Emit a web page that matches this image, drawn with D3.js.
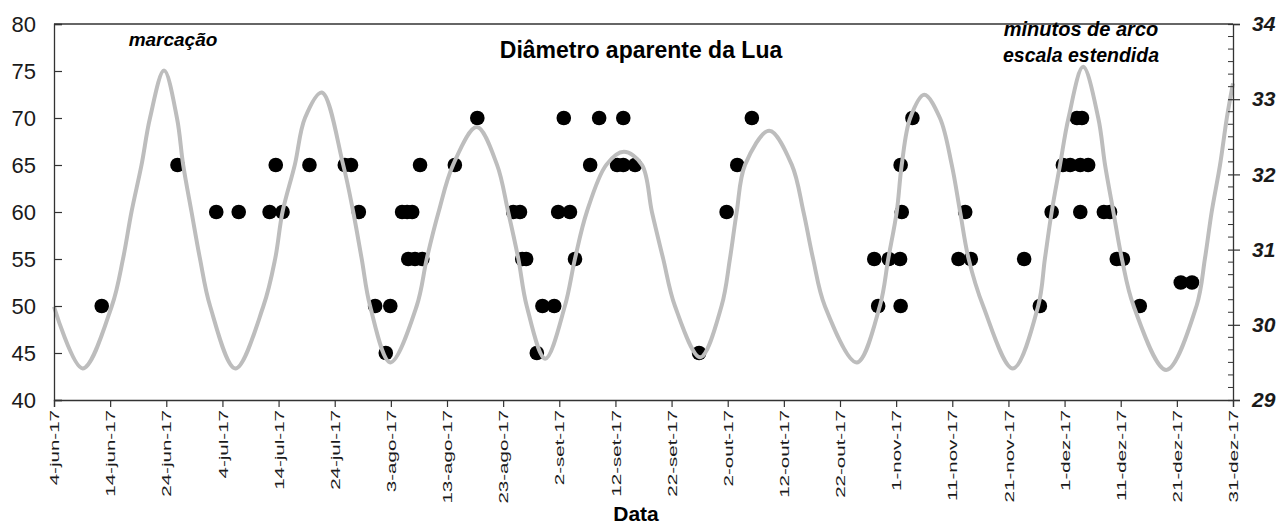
<!DOCTYPE html>
<html>
<head>
<meta charset="utf-8">
<script src="https://cdn.jsdelivr.net/npm/d3@7"></script>
<style>
  body { margin: 0; background: #fff; }
  svg { display: block; font-family: "Liberation Sans", Arial, sans-serif; }
</style>
</head>
<body>
<div id="chart"></div>
<script>
// Marcações observadas: dia do ano (2017) e valor na escala da esquerda
const marcacaoDia = [
  163.5, 177.0, 183.9, 187.9, 193.4, 195.7, 194.5, 200.5, 206.8, 207.9,
  209.3, 212.2, 214.9, 214.1, 217.0, 217.9, 218.8, 218.1, 219.3, 220.6,
  220.2, 226.4, 230.4, 236.8, 238.0, 238.4, 239.1, 242.0, 244.1, 241.0,
  244.8, 246.9, 245.8, 247.8, 250.5, 252.1, 256.4, 255.3, 256.4, 258.5,
  269.9, 274.8, 276.7, 279.3, 301.1, 301.8, 303.7, 305.7, 305.8, 306.0,
  305.8, 307.9, 316.1, 317.3, 318.3, 327.8, 330.6, 332.7, 334.7, 336.0,
  337.8, 339.2, 337.2, 338.1, 337.8, 342.0, 343.1, 344.3, 345.4, 348.4,
  355.7, 357.7
];
const marcacaoValor = [
  50, 65, 60, 60, 60, 60, 65, 65, 65, 65,
  60, 50, 50, 45, 60, 60, 60, 55, 55, 55,
  65, 65, 70, 60, 60, 55, 55, 50, 50, 45,
  60, 60, 70, 55, 65, 70, 70, 65, 65, 65,
  45, 60, 65, 70, 55, 50, 55, 55, 65, 60,
  50, 70, 55, 60, 55, 55, 50, 60, 65, 65,
  65, 65, 70, 70, 60, 60, 60, 55, 55, 50,
  52.5, 52.5
];

// Diâmetro aparente da Lua (minutos de arco)
const diametroDia = [
  155.0, 160.1, 165.3, 167.3, 168.8, 170.6, 172.1, 174.6, 176.9, 178.0,
  179.5, 181.0, 182.8, 187.3, 192.3, 194.4, 195.7, 197.9, 199.7, 202.7,
  206.5, 208.3, 209.8, 211.3, 214.9, 219.6, 221.4, 223.5, 226.1, 230.3,
  233.9, 235.9, 237.7, 239.2, 242.5, 246.0, 247.8, 249.9, 253.4, 256.5,
  259.7, 261.5, 263.5, 265.6, 270.1, 273.9, 275.4, 276.6, 278.1, 282.4,
  286.4, 288.5, 290.2, 292.3, 298.0, 302.1, 303.6, 305.1, 306.0, 307.5,
  310.0, 312.8, 314.9, 316.4, 317.9, 320.5, 325.8, 330.3, 331.5, 332.7,
  334.2, 335.7, 338.3, 341.0, 342.2, 343.7, 345.2, 347.3, 353.1, 358.5,
  360.0, 361.2, 362.7, 363.9, 365.0
];
const diametroArcmin = [
  30.24, 29.42, 30.25, 30.88, 31.50, 32.13, 32.75, 33.38, 32.75, 32.13,
  31.50, 30.88, 30.25, 29.42, 30.25, 30.88, 31.50, 32.13, 32.75, 33.09,
  32.13, 31.50, 30.88, 30.25, 29.50, 30.25, 30.88, 31.50, 32.13, 32.63,
  32.13, 31.50, 30.88, 30.25, 29.55, 30.25, 30.88, 31.50, 32.13, 32.30,
  32.13, 31.50, 30.88, 30.25, 29.57, 30.25, 30.88, 31.50, 32.13, 32.58,
  32.13, 31.50, 30.88, 30.25, 29.50, 30.25, 30.88, 31.50, 32.13, 32.75,
  33.06, 32.75, 32.13, 31.50, 30.88, 30.25, 29.42, 30.25, 30.88, 31.50,
  32.13, 32.75, 33.43, 32.75, 32.13, 31.50, 30.88, 30.25, 29.40, 30.25,
  30.88, 31.50, 32.13, 32.75, 33.21
];

const xTicks = [
  "2017-06-04", "2017-06-14", "2017-06-24", "2017-07-04", "2017-07-14", "2017-07-24",
  "2017-08-03", "2017-08-13", "2017-08-23", "2017-09-02", "2017-09-12", "2017-09-22",
  "2017-10-02", "2017-10-12", "2017-10-22", "2017-11-01", "2017-11-11", "2017-11-21",
  "2017-12-01", "2017-12-11", "2017-12-21", "2017-12-31"
];
const xTickLabels = [
  "4-jun-17", "14-jun-17", "24-jun-17", "4-jul-17", "14-jul-17", "24-jul-17",
  "3-ago-17", "13-ago-17", "23-ago-17", "2-set-17", "12-set-17", "22-set-17",
  "2-out-17", "12-out-17", "22-out-17", "1-nov-17", "11-nov-17", "21-nov-17",
  "1-dez-17", "11-dez-17", "21-dez-17", "31-dez-17"
];
const yTicks = [40, 45, 50, 55, 60, 65, 70, 75, 80];
const arcminTicks = [29, 30, 31, 32, 33, 34];

const width = 1280, height = 524;
const plotLeft = 54, plotRight = 1233, plotTop = 24, plotBottom = 400;

const svg = d3.select('#chart').append('svg')
  .attr('width', width)
  .attr('height', height);

const doyToDate = d => new Date(Date.UTC(2017, 0, 1) + (d - 1) * 864e5);
const parseDay = d3.utcParse('%Y-%m-%d');

const x = d3.scaleUtc()
  .domain([parseDay(xTicks[0]), parseDay(xTicks[xTicks.length - 1])])
  .range([plotLeft, plotRight]);
const y = d3.scaleLinear().domain([40, 80]).range([plotBottom, plotTop]);
const yRight = d3.scaleLinear().domain([29, 34]).range([plotBottom, plotTop]);

// marcações (pontos pretos)
svg.append('g')
  .selectAll('circle')
  .data(marcacaoDia.map((d, i) => ({ date: doyToDate(d), v: marcacaoValor[i] })))
  .join('circle')
  .attr('cx', d => x(d.date))
  .attr('cy', d => y(d.v))
  .attr('r', 7.3)
  .attr('fill', '#000');

// curva do diâmetro aparente (por cima dos pontos)
const line = d3.line()
  .x(d => x(d.date))
  .y(d => yRight(d.v))
  .curve(d3.curveCatmullRom.alpha(0.5));

svg.append('path')
  .datum(diametroDia.map((d, i) => ({ date: doyToDate(d), v: diametroArcmin[i] })))
  .attr('d', line)
  .attr('fill', 'none')
  .attr('stroke', '#bdbdbd')
  .attr('stroke-width', 4);

// eixo esquerdo
const yAxis = svg.append('g')
  .attr('transform', `translate(${plotLeft},0)`)
  .call(d3.axisLeft(y).tickValues(yTicks).tickSize(-8).tickPadding(18));
yAxis.selectAll('text')
  .attr('font-size', 22)
  .attr('font-family', '"Liberation Sans", Arial, sans-serif')
  .attr('fill', '#1a1a1a');

// eixo inferior
const xAxis = svg.append('g')
  .attr('transform', `translate(0,${plotBottom})`)
  .call(d3.axisBottom(x)
    .tickValues(xTicks.map(parseDay))
    .tickFormat((d, i) => xTickLabels[i])
    .tickSize(7));
xAxis.selectAll('text')
  .attr('font-size', 13)
  .attr('font-family', '"Liberation Sans", Arial, sans-serif')
  .attr('fill', '#1a1a1a')
  .attr('text-anchor', 'end')
  .attr('dy', '0.36em')
  .attr('y', 0)
  .attr('transform', 'translate(0,10) rotate(-90) scale(1.58,1)');

// eixo direito
const yRightAxis = svg.append('g')
  .attr('transform', `translate(${plotRight},0)`)
  .call(d3.axisRight(yRight).tickValues(arcminTicks)
    .tickFormat(d3.format('d')).tickSize(7).tickPadding(12));
yRightAxis.selectAll('.tick line').attr('x1', -5);
yRightAxis.selectAll('text')
  .attr('font-size', 21)
  .attr('font-weight', 'bold')
  .attr('font-style', 'italic')
  .attr('font-family', '"Liberation Sans", Arial, sans-serif')
  .attr('fill', '#1a1a1a');
yRightAxis.append('g')
  .selectAll('line')
  .data(d3.range(29, 34, 1 / 6).filter(v => Math.abs(v - Math.round(v)) > 1e-6))
  .join('line')
  .attr('x1', -5).attr('x2', 0)
  .attr('y1', d => yRight(d)).attr('y2', d => yRight(d))
  .attr('stroke', '#333');

svg.selectAll('.domain').attr('stroke', '#333').attr('stroke-width', 1.3);
svg.selectAll('.tick line').attr('stroke', '#333').attr('stroke-width', 1.2);

// moldura superior
svg.append('line')
  .attr('x1', plotLeft).attr('x2', plotRight)
  .attr('y1', plotTop).attr('y2', plotTop)
  .attr('stroke', '#333').attr('stroke-width', 1.3);

// textos
svg.append('text')
  .attr('x', 641).attr('y', 58)
  .attr('text-anchor', 'middle')
  .attr('font-size', 23).attr('font-weight', 'bold')
  .text('Diâmetro aparente da Lua');

svg.append('text')
  .attr('x', 173).attr('y', 46)
  .attr('text-anchor', 'middle')
  .attr('font-size', 19).attr('font-weight', 'bold').attr('font-style', 'italic')
  .text('marcação');

svg.append('text')
  .attr('x', 1081).attr('y', 36)
  .attr('text-anchor', 'middle')
  .attr('font-size', 20).attr('font-weight', 'bold').attr('font-style', 'italic')
  .text('minutos de arco');

svg.append('text')
  .attr('x', 1081).attr('y', 62)
  .attr('text-anchor', 'middle')
  .attr('font-size', 19.5).attr('font-weight', 'bold').attr('font-style', 'italic')
  .text('escala estendida');

svg.append('text')
  .attr('x', 636).attr('y', 521)
  .attr('text-anchor', 'middle')
  .attr('font-size', 21).attr('font-weight', 'bold')
  .text('Data');
</script>
</body>
</html>
